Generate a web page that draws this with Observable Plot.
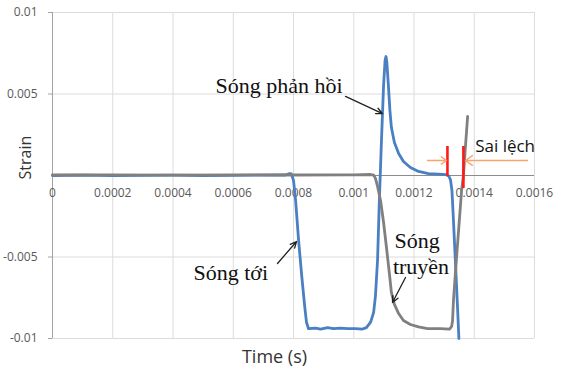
<!DOCTYPE html>
<html>
<head>
<meta charset="utf-8">
<script src="https://cdn.jsdelivr.net/npm/d3@7"></script>
<script src="https://cdn.jsdelivr.net/npm/@observablehq/plot@0.6"></script>
<style>
  html, body { margin: 0; padding: 0; background: #fff; }
  #chart { width: 570px; height: 371px; }
</style>
</head>
<body>
<div id="chart"></div>
<script>
// Incident + reflected pulse (blue), measured on the input bar
const blueTime = [
  0, 0.0001, 0.0002, 0.0003, 0.0004, 0.0005, 0.0006, 0.0007, 0.000773,
  0.000787, 0.000793, 0.0008, 0.000807, 0.000817, 0.000827, 0.000837, 0.000843,
  0.00085, 0.000873, 0.00089, 0.000913, 0.000933, 0.000956, 0.00098, 0.001006,
  0.001029, 0.001042, 0.001056, 0.001066, 0.001072, 0.001079, 0.001085, 0.001092,
  0.001099, 0.001104, 0.001107, 0.00111, 0.001115, 0.00112, 0.001125, 0.001135,
  0.001149, 0.001165, 0.001188, 0.001215, 0.001248, 0.001281, 0.001305, 0.001315,
  0.001321, 0.001326, 0.001331, 0.001338, 0.001345, 0.001349
];
const blueStrain = [
  0, 0.00002, -0.00001, 0.00001, 0.00002, 0, 0.00001, 0.00002, 0.00003,
  0.00012, 0.0001, -0.0003, -0.00153, -0.004, -0.0061, -0.008, -0.009,
  -0.0094, -0.00936, -0.00942, -0.00933, -0.00939, -0.00936, -0.00939, -0.00939,
  -0.00942, -0.00933, -0.009, -0.0084, -0.0074, -0.0052, -0.00153, 0.00215,
  0.00552, 0.00706, 0.0073, 0.00693, 0.00552, 0.004, 0.00294, 0.00202,
  0.00135, 0.00086, 0.00049, 0.00025, 0.00012, 0.00009, 0.00006, -0.00003,
  -0.00025, -0.00092, -0.00276, -0.0055, -0.0083, -0.01
];

// Transmitted pulse (gray), measured on the output bar
const grayTime = [
  0, 0.0002, 0.0004, 0.0006, 0.0008, 0.001, 0.001056, 0.001066, 0.001072,
  0.001079, 0.001089, 0.001099, 0.001109, 0.001119, 0.001125, 0.001135, 0.001149,
  0.001165, 0.001188, 0.001215, 0.001245, 0.001288, 0.001318, 0.001325, 0.001328,
  0.001331, 0.001338, 0.001348, 0.001358, 0.001364, 0.001371, 0.001378
];
const grayStrain = [
  0.00003, 0.00004, 0.00002, 0.00004, 0.00003, 0.00004, 0.00006, 0.00003, -0.00018,
  -0.00067, -0.00153, -0.00288, -0.00448, -0.00613, -0.00718, -0.00791, -0.00847,
  -0.0089, -0.00914, -0.00929, -0.00939, -0.00939, -0.00942, -0.00926, -0.0089,
  -0.00767, -0.00583, -0.00337, -0.00092, 0, 0.00184, 0.00362
];

// Axis ticks
const xTicks = [0, 0.0002, 0.0004, 0.0006, 0.0008, 0.001, 0.0012, 0.0014, 0.0016];
const xTickLabels = ["0", "0.0002", "0.0004", "0.0006", "0.0008", "0.001", "0.0012", "0.0014", "0.0016"];
const yTicks = [-0.01, -0.005, 0.005, 0.01];
const yTickLabels = ["-0.01", "-0.005", "0.005", "0.01"];

// Wave-front times used for the offset ("Sai lệch") markers
const frontTimes = [0.001311, 0.001364];

const blue = blueTime.map((t, i) => ({t, v: blueStrain[i]}));
const gray = grayTime.map((t, i) => ({t, v: grayStrain[i]}));

const BLUE = "#4a7fc4";
const GRAY = "#808080";
const TICK_TEXT = "#595959";
const SERIF = "'Liberation Serif', 'Times New Roman', serif";

// Callout labels (data-space anchors)
const callouts = [
  {text: "Sóng phản hồi", t: 0.000541, v: 0.00547},
  {text: "Sóng tới", t: 0.000468, v: -0.00598},
  {text: "Sóng", t: 0.001135, v: -0.00400},
  {text: "truyền", t: 0.001130, v: -0.00562}
];
const pointers = [
  {t1: 0.0009726, v1: 0.00485, t2: 0.0010954, v2: 0.0038},
  {t1: 0.0007469, v1: -0.0054, t2: 0.00081, v2: -0.00405},
  {t1: 0.0011718, v1: -0.00626, t2: 0.0011286, v2: -0.00779}
];
const offsetArrows = [
  {t1: 0.0012448, t2: 0.0013079, v: 0.00092},
  {t1: 0.0015768, t2: 0.001371, v: 0.00092}
];
const frontMarks = [
  {t: frontTimes[0], v1: 0.00178, v2: -0.00005},
  {t: frontTimes[1], v1: 0.00178, v2: -0.0008}
];

const chart = Plot.plot({
  width: 570,
  height: 371,
  marginLeft: 52,
  marginRight: 36,
  marginTop: 12,
  marginBottom: 33,
  x: {domain: [0, 0.0016], axis: null},
  y: {domain: [-0.01, 0.01]},
  style: {fontFamily: "'Open Sans', sans-serif", background: "#fff", overflow: "visible"},
  marks: [
    Plot.gridX(xTicks.slice(1), {stroke: "#dcdcdc", strokeOpacity: 1}),
    Plot.gridY(yTicks, {stroke: "#dcdcdc", strokeOpacity: 1}),
    Plot.ruleX([0], {y1: -0.01, y2: 0.01, stroke: "#a3a3a3"}),
    Plot.ruleY([0], {stroke: "#8c8c8c", strokeWidth: 1.2}),
    Plot.axisY(yTicks, {
      tickSize: 4, tickPadding: 11, fontSize: 12,
      stroke: "#a3a3a3", fill: TICK_TEXT,
      tickFormat: (d) => yTickLabels[yTicks.indexOf(d)],
      label: null
    }),
    Plot.text(xTicks, {
      x: (d) => d, y: () => 0, dy: 17.5,
      text: (d, i) => xTickLabels[i],
      fontSize: 12, fill: TICK_TEXT
    }),
    Plot.text(["Strain"], {
      x: () => -0.00009, y: () => 0.0011, rotate: -90,
      fontSize: 16, fill: "#333"
    }),
    Plot.text(["Time (s)"], {frameAnchor: "bottom", dx: -19, dy: 24, fontSize: 18, fill: "#333"}),

    Plot.line(blue, {x: "t", y: "v", stroke: BLUE, strokeWidth: 2.8, strokeLinejoin: "round"}),
    Plot.line(gray, {x: "t", y: "v", stroke: GRAY, strokeWidth: 2.8, strokeLinejoin: "round"}),

    Plot.ruleX(frontMarks, {x: "t", y1: "v1", y2: "v2", stroke: "#ff1a1a", strokeWidth: 2.6}),
    Plot.arrow(offsetArrows, {
      x1: "t1", x2: "t2", y1: "v", y2: "v",
      stroke: "#f7a56b", strokeWidth: 1.4, headLength: 9, headAngle: 70
    }),
    Plot.text(["Sai lệch"], {
      x: () => 0.001403, y: () => 0.00178, textAnchor: "start",
      fontSize: 17, fill: "#111"
    }),

    Plot.arrow(pointers, {
      x1: "t1", y1: "v1", x2: "t2", y2: "v2",
      stroke: "#222", strokeWidth: 1.3, headLength: 8, headAngle: 50
    }),
    Plot.text(callouts, {
      x: "t", y: "v", text: "text", textAnchor: "start",
      fontFamily: SERIF, fontSize: 22, fill: "#111"
    })
  ]
});

document.getElementById("chart").appendChild(chart);
</script>
</body>
</html>
